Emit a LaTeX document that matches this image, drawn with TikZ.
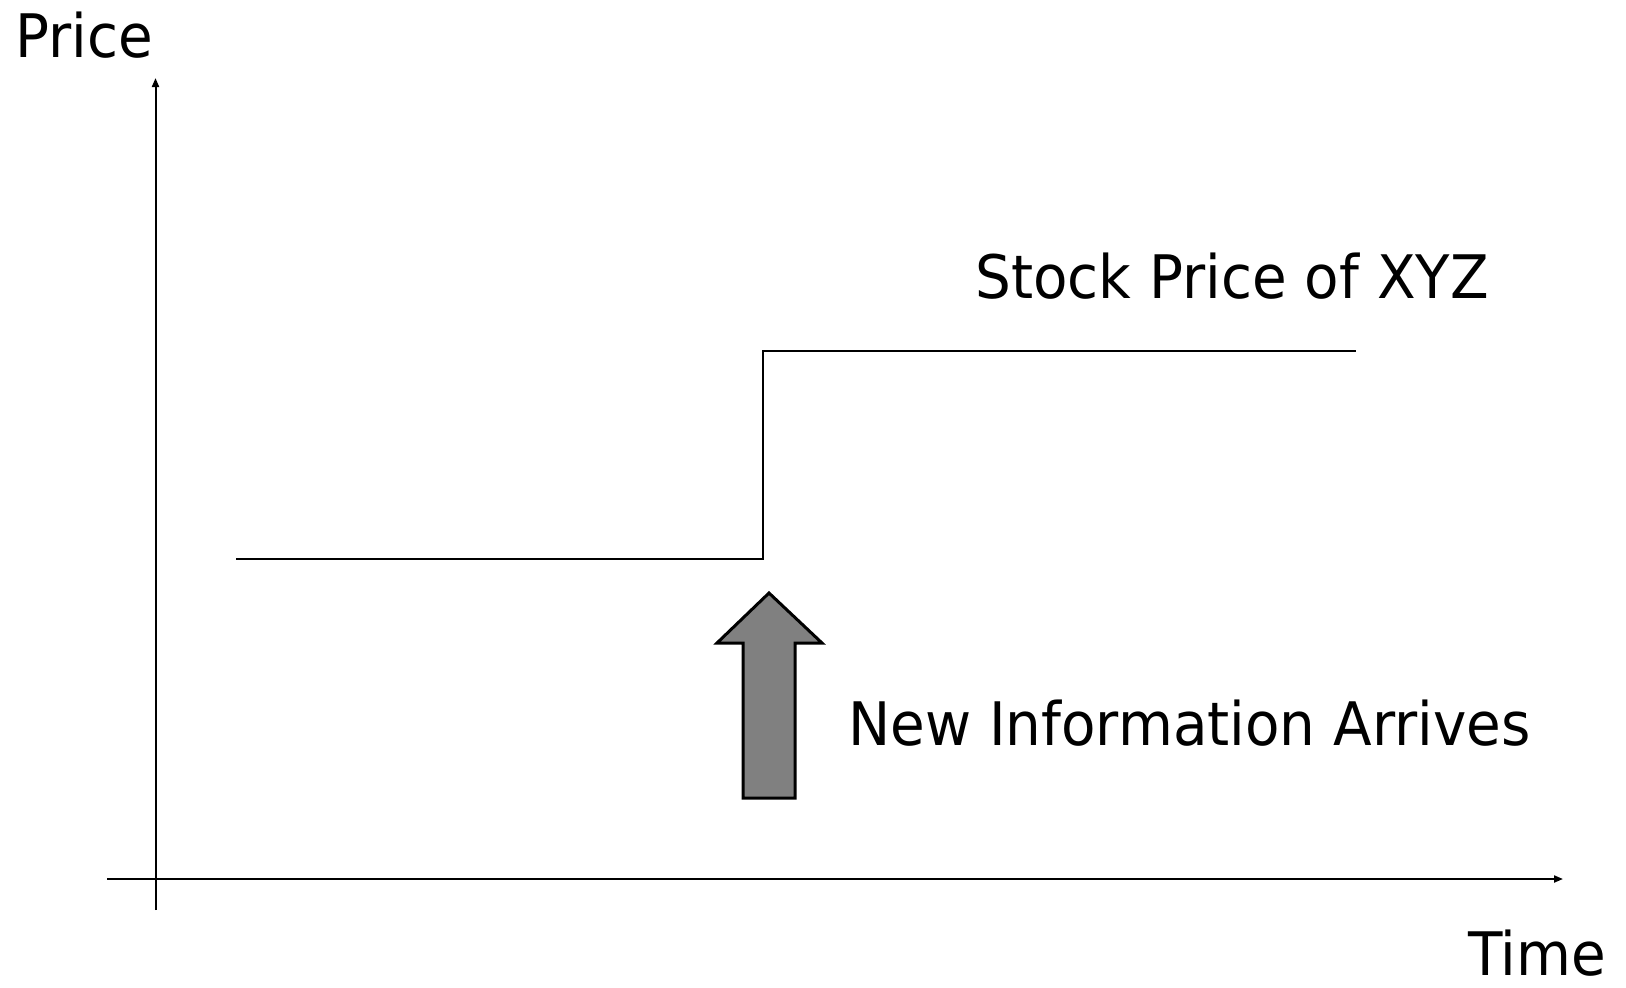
\documentclass[tikz,border=0pt]{standalone}
\usepackage{fontspec}
\setmainfont{DejaVu Sans}
\usetikzlibrary{arrows.meta}
\newcommand{\narrow}[1]{\scalebox{0.94}[1]{#1}}
\begin{document}
\begin{tikzpicture}[x=1pt,y=-1pt,
  axis/.style={line width=2pt,-{Triangle[length=9pt,width=7pt]}},
  curve/.style={line width=2.6pt,line join=miter},
  lbl/.style={anchor=base west,inner sep=0pt,text depth=0pt,font=\fontsize{60}{72}\selectfont}]
\useasboundingbox (0,0) rectangle (1626,988);
\coordinate (ybot) at (155.5,910);
\coordinate (ytop) at (155.5,78);
\coordinate (xl) at (107,879);
\coordinate (xr) at (1563,879);
\draw[axis] (ybot) -- (ytop);
\draw[axis] (xl) -- (xr);
\coordinate (s0) at (236,559);
\coordinate (s1) at (763,559);
\coordinate (s2) at (763,351);
\coordinate (s3) at (1356,351);
\draw[curve] (s0) -- (s1) -- (s2) -- (s3);
\draw[line width=3pt,fill={rgb,255:red,128;green,128;blue,128},line join=miter]
  (769,593) -- (822,643) -- (795,643) -- (795,798) -- (743,798) -- (743,643) -- (717,643) -- cycle;
\node[lbl] (price) at (15.5,57) {\narrow{Price}};
\node[lbl] (stock) at (975,298.5) {\narrow{Stock Price of XYZ}};
\node[lbl] (news) at (848,745) {\narrow{New Information Arrives}};
\node[lbl] (time) at (1468,975) {\narrow{Time}};
\end{tikzpicture}
\end{document}
